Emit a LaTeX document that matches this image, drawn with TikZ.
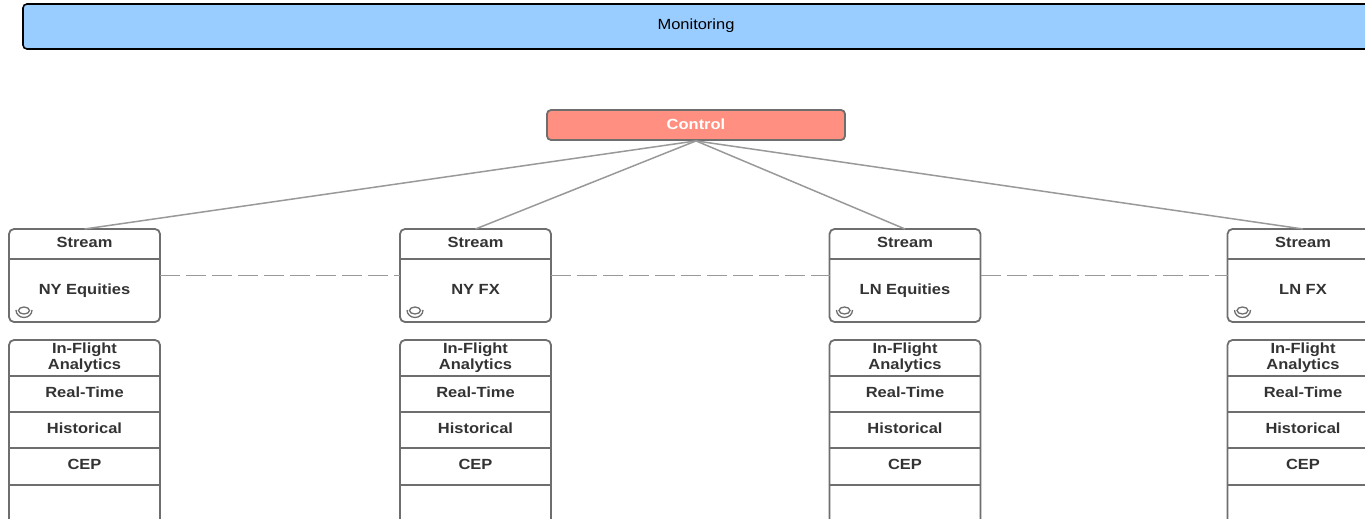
\documentclass[tikz,border=0pt]{standalone}
\usepackage{fontspec}
\setmainfont[FakeStretch=1.12]{Liberation Sans}
\usetikzlibrary{calc}
\definecolor{edgegray}{HTML}{6E6E6E}
\definecolor{linkgray}{HTML}{999999}
\definecolor{txt}{HTML}{333333}
\definecolor{monblue}{HTML}{99CCFF}
\definecolor{ctlred}{HTML}{FF8F80}
\tikzset{
  x=1pt,y=-1pt,
  panel/.style={draw=edgegray,line width=1.8pt,rounded corners=5pt,fill=white,minimum width=151pt,inner sep=0pt,outer sep=0pt},
  label/.style={font=\fontsize{14.7}{16}\selectfont\bfseries,text=txt,align=center,inner sep=0pt,anchor=base},
  rule/.style={draw=edgegray,line width=1.6pt},
  link/.style={draw=linkgray,line width=1.5pt},
  peer/.style={draw=linkgray,line width=1.7pt,dash pattern=on 20pt off 6pt},
}
\begin{document}
\begin{tikzpicture}
\useasboundingbox (0,0) rectangle (1365,519);
\clip (0,0) rectangle (1365,519);
\node[draw=black,line width=1.6pt,rounded corners=4pt,fill=monblue,minimum width=1346pt,minimum height=45pt,inner sep=0pt] (mon) at (696,26.5) {};
\node[font=\fontsize{14.7}{16}\selectfont,text=black,inner sep=0pt,anchor=base] (montext) at (696,30) {Monitoring};
\node[draw=edgegray,line width=1.8pt,rounded corners=4pt,fill=ctlred,minimum width=298pt,minimum height=30pt,inner sep=0pt] (ctl) at (696,125) {};
\node[label,text=white] (ctltext) at (696,129) {Control};
\foreach \n/\cx/\name in {a/84.5/NY Equities,b/475.5/NY FX,c/905/LN Equities,d/1303/LN FX}{
  \node[panel,minimum height=93pt] (s\n) at (\cx,275.5) {};
  \draw[rule] ($(s\n.north west)+(0,30)$) -- ($(s\n.north east)+(0,30)$);
  \node[label] (h\n) at (\cx,247) {Stream};
  \node[label] (t\n) at (\cx,294) {\name};
  \draw[edgegray,line width=1.3pt] (\cx-60.5,310.5) ellipse (5.5pt and 3.5pt);
  \draw[edgegray,line width=1.3pt] (\cx-68.5,310) arc[start angle=180,end angle=360,x radius=8pt,y radius=7.5pt];
  \node[panel,minimum height=230pt] (f\n) at (\cx,455) {};
  \foreach \yy in {376,412,448,485}{
    \draw[rule] (\cx-75.5,\yy) -- (\cx+75.5,\yy);
  }
  \node[label] (an\n) at (\cx,353) {In-Flight};
  \node[label] (al\n) at (\cx,369) {Analytics};
  \node[label] (rt\n) at (\cx,397.5) {Real-Time};
  \node[label] (hi\n) at (\cx,433.5) {Historical};
  \node[label] (ce\n) at (\cx,469.5) {CEP};
  \draw[link] (ctl.south) -- (s\n.north);
}
\draw[peer] (sa.east) -- (sb.west);
\draw[peer] (sb.east) -- (sc.west);
\draw[peer] (sc.east) -- (sd.west);
\end{tikzpicture}
\end{document}
